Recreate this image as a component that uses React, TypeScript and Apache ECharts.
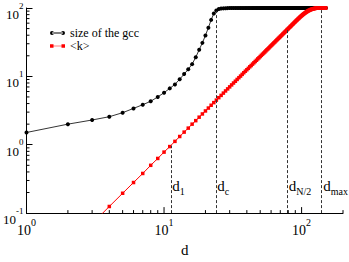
import React, { useEffect, useRef } from 'react';
import * as echarts from 'echarts';

const FONT = 'Liberation Serif, Times New Roman, serif';

// size of the gcc for d = 1, 2, 3, ...
const gccSize = [
  1.51, 2.0, 2.3, 2.57, 2.94, 3.4, 3.85, 4.32, 5.0, 5.77,
  6.67, 7.63, 9.1, 10.8, 12.7, 15.1, 19.0, 24.5, 30.9, 39.7,
  51.5, 67, 83, 92, 96.5, 98.0, 98.8, 99.3, 99.6, 99.8,
  99.9, 100, 100, 100, 100, 100, 100, 100, 100, 100,
  100, 100, 100, 100, 100, 100, 100, 100, 100, 100,
  100, 100, 100, 100, 100, 100, 100, 100, 100, 100,
  100, 100, 100, 100, 100, 100, 100, 100, 100, 100,
  100, 100, 100, 100, 100, 100, 100, 100, 100, 100,
  100, 100, 100, 100, 100, 100, 100, 100, 100, 100,
  100, 100, 100, 100, 100, 100, 100, 100, 100, 100,
  100, 100, 100, 100, 100, 100, 100, 100, 100, 100,
  100, 100, 100, 100, 100, 100, 100, 100, 100, 100,
  100, 100, 100, 100, 100, 100, 100, 100, 100, 100,
  100, 100, 100, 100, 100, 100, 100, 100, 100, 100,
  100, 100, 100, 100, 100, 100, 100, 100, 100, 100,
];

// <k> for d = 1, 2, 3, ...
const meanDegree = [
  0.0078, 0.031, 0.07, 0.125, 0.195, 0.28, 0.38, 0.5, 0.63, 0.78,
  0.94, 1.12, 1.32, 1.53, 1.75, 2.0, 2.25, 2.53, 2.82, 3.12,
  3.44, 3.78, 4.13, 4.49, 4.88, 5.27, 5.69, 6.12, 6.56, 7.02,
  7.5, 7.99, 8.49, 9.02, 9.56, 10.1, 10.7, 11.3, 11.9, 12.5,
  13.1, 13.8, 14.4, 15.1, 15.8, 16.5, 17.2, 18.0, 18.7, 19.5,
  20.3, 21.1, 21.9, 22.7, 23.6, 24.5, 25.3, 26.2, 27.2, 28.1,
  29.0, 30.0, 31.0, 31.9, 33.0, 34.0, 35.0, 36.1, 37.1, 38.2,
  39.3, 40.4, 41.6, 42.7, 43.9, 45.1, 46.2, 47.5, 48.7, 49.9,
  51.2, 52.4, 53.7, 55.0, 56.4, 57.7, 59.0, 60.4, 61.8, 63.2,
  64.6, 66.0, 67.4, 68.8, 70.2, 71.6, 73.0, 74.4, 75.8, 77.2,
  78.5, 79.8, 81.1, 82.4, 83.6, 84.8, 86.0, 87.1, 88.2, 89.2,
  90.2, 91.1, 92.0, 92.8, 93.6, 94.3, 95.0, 95.6, 96.2, 96.7,
  97.2, 97.6, 98.0, 98.3, 98.6, 98.9, 99.1, 99.3, 99.5, 99.6,
  99.7, 99.8, 99.9, 99.9, 100, 100, 100, 100, 100, 100,
  100, 100, 100, 100, 100, 100, 100, 100, 100, 100,
];

const xMajorTicks = [1, 10, 100];
const xMinorTicks = [2, 3, 4, 5, 6, 7, 8, 9, 20, 30, 40, 50, 60, 70, 80, 90, 200];
const yMinorTicks = [
  0.2, 0.3, 0.4, 0.5, 0.6, 0.7, 0.8, 0.9,
  2, 3, 4, 5, 6, 7, 8, 9,
  20, 30, 40, 50, 60, 70, 80, 90,
];

const markerSubs = ['1', 'c', 'N/2', 'max'];
const markerDegrees = [11.2, 23.8, 78.8, 140];
const markerTops = [0.97, 90, 48, 100];
const markerLabelLevel = 0.24;

const X_MIN = 1;
const X_MAX = 200;
const Y_MIN = 0.1;
const Y_MAX = 100;

const powLabel = (v: number) => {
  const l = Math.log10(v);
  const e = Math.round(l);
  if (Math.abs(l - e) > 0.01) return '';
  return `{b|10}{p|${e}}`;
};

const tickSeries = (data: number[][], kind: 'x' | 'y', len: number) => ({
  type: 'custom',
  silent: true,
  z: 5,
  data,
  renderItem: (_params: any, api: any) => {
    const p = api.coord([api.value(0), api.value(1)]);
    const shape =
      kind === 'x'
        ? { x1: p[0], y1: p[1], x2: p[0], y2: p[1] - len }
        : { x1: p[0], y1: p[1], x2: p[0] + len, y2: p[1] };
    return { type: 'line', shape, style: { stroke: '#000', lineWidth: 1 } };
  },
});

export default function App() {
  const ref = useRef<HTMLDivElement>(null);

  useEffect(() => {
    if (!ref.current) return;
    const chart = echarts.init(ref.current, undefined, { renderer: 'svg' });
    const degrees = gccSize.map((_, i) => i + 1);

    const option: any = {
      animation: false,
      grid: { left: 24, right: 6, top: 8, bottom: 32, containLabel: false },
      legend: {
        left: 50,
        top: 27,
        orient: 'vertical',
        padding: 0,
        itemGap: 1,
        itemWidth: 15,
        itemHeight: 4,
        selectedMode: false,
        textStyle: { fontFamily: FONT, fontSize: 12, color: '#000', lineHeight: 11 },
        data: [
          {
            name: 'size of the gcc',
            icon: 'path://M0,2a2,2 0 1,0 4,0a2,2 0 1,0 -4,0zM2,1.6h11v0.8h-11zM11,2a2,2 0 1,0 4,0a2,2 0 1,0 -4,0z',
          },
          {
            name: '<k>',
            icon: 'path://M0,0h3.5v3.5h-3.5zM2,1.4h11v0.7h-11zM11.5,0h3.5v3.5h-3.5z',
          },
        ],
      },
      xAxis: {
        type: 'log',
        logBase: 10,
        min: X_MIN,
        max: X_MAX,
        name: 'd',
        nameLocation: 'middle',
        nameGap: 19,
        nameTextStyle: { fontFamily: FONT, fontSize: 15, color: '#000' },
        axisLine: { show: true, lineStyle: { color: '#000', width: 1 } },
        axisTick: { show: false },
        splitLine: { show: false },
        minorTick: { show: false },
        axisLabel: {
          margin: 4,
          color: '#000',
          showMaxLabel: false,
          formatter: powLabel,
          rich: {
            b: { fontFamily: FONT, fontSize: 14, lineHeight: 20, verticalAlign: 'bottom', color: '#000' },
            p: { fontFamily: FONT, fontSize: 10, lineHeight: 8, verticalAlign: 'top', color: '#000' },
          },
        },
      },
      yAxis: {
        type: 'log',
        logBase: 10,
        min: Y_MIN,
        max: Y_MAX,
        axisLine: { show: true, lineStyle: { color: '#000', width: 1 } },
        axisTick: { show: true, inside: true, length: 6, lineStyle: { color: '#000', width: 1 } },
        splitLine: { show: false },
        axisLabel: {
          margin: 3,
          color: '#000',
          padding: [6, 0, 0, 0],
          formatter: powLabel,
          rich: {
            b: { fontFamily: FONT, fontSize: 13, lineHeight: 20, verticalAlign: 'bottom', color: '#000' },
            p: { fontFamily: FONT, fontSize: 9, lineHeight: 8, verticalAlign: 'top', color: '#000' },
          },
        },
      },
      series: [
        {
          name: 'size of the gcc',
          type: 'line',
          data: degrees.map((d, i) => [d, gccSize[i]]),
          symbol: 'circle',
          symbolSize: 4,
          showAllSymbol: true,
          clip: true,
          lineStyle: { color: '#000', width: 0.8 },
          itemStyle: { color: '#000' },
          z: 2,
          markLine: {
            silent: true,
            symbol: ['none', 'none'],
            label: { show: false },
            lineStyle: { color: '#333', width: 1, type: [3, 2] },
            data: markerDegrees.map((d, i) => [
              { coord: [d, Y_MIN] },
              { coord: [d, markerTops[i]] },
            ]),
          },
          markPoint: {
            silent: true,
            symbol: 'circle',
            symbolSize: 1,
            itemStyle: { color: 'rgba(0,0,0,0)' },
            label: {
              show: true,
              position: 'right',
              distance: 1,
              color: '#000',
              rich: {
                b: { fontFamily: FONT, fontSize: 15, lineHeight: 18, verticalAlign: 'top', color: '#000' },
                s: { fontFamily: FONT, fontSize: 10, lineHeight: 10, verticalAlign: 'bottom', color: '#000' },
              },
            },
            data: markerDegrees.map((d, i) => ({
              coord: [d, markerLabelLevel],
              value: markerSubs[i],
              label: { formatter: `{b|d}{s|${markerSubs[i]}}` },
            })),
          },
        },
        {
          name: '<k>',
          type: 'line',
          data: degrees.map((d, i) => [d, meanDegree[i]]),
          symbol: 'rect',
          symbolSize: 3.5,
          showAllSymbol: true,
          clip: true,
          lineStyle: { color: '#ff0000', width: 1 },
          itemStyle: { color: '#ff0000' },
          z: 3,
        },
        tickSeries(xMajorTicks.map((v) => [v, Y_MIN]), 'x', 6),
        tickSeries(xMinorTicks.map((v) => [v, Y_MIN]), 'x', 3),
        tickSeries(yMinorTicks.map((v) => [X_MIN, v]), 'y', 3),
      ],
    };

    chart.setOption(option);
    return () => chart.dispose();
  }, []);

  return (
    <div
      ref={ref}
      style={{ position: 'fixed', left: 0, top: 0, width: 349, height: 262, background: '#fff' }}
    />
  );
}
